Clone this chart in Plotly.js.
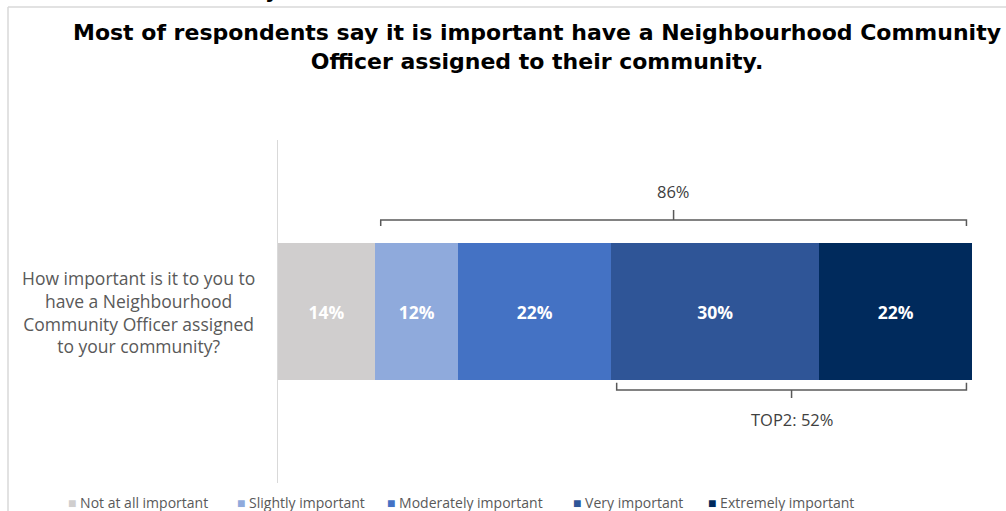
<!DOCTYPE html>
<html>
<head>
<meta charset="utf-8">
<script src="https://cdn.plot.ly/plotly-3.0.1.min.js"></script>
<style>
html,body{margin:0;padding:0;background:#fff;}
#chart{width:1006px;height:511px;}
</style>
</head>
<body>
<div id="chart"></div>
<script>
// ---- data ----
const categories = ['Not at all important', 'Slightly important', 'Moderately important', 'Very important', 'Extremely important'];
const values = [14, 12, 22, 30, 22];
const colors = ['#D0CECE', '#8FAADC', '#4472C4', '#2F5597', '#002A5C'];
const question = 'How important is it to you to<br>have a Neighbourhood<br>Community Officer assigned<br>to your community?';
const titleText = 'Most of respondents say it is important have a Neighbourhood Community<br>Officer assigned to their community.';
const top2Label = 'TOP2';

// ---- geometry helpers (pixels -> paper) ----
const W = 1006, H = 511;
const M = {l: 278, r: 34, t: 140, b: 28};
const PW = W - M.l - M.r, PH = H - M.t - M.b;
const px = x => (x - M.l) / PW;
const py = y => (H - M.b - y) / PH;
const FONT = 'Open Sans, sans-serif';

const traces = categories.map((c, i) => ({
  type: 'bar',
  orientation: 'h',
  name: c,
  y: [0],
  x: [values[i]],
  width: 0.4,
  marker: {color: colors[i], line: {width: 0}},
  texttemplate: '<b>%{x}%</b>',
  textposition: 'inside',
  insidetextanchor: 'middle',
  textangle: 0,
  textfont: {family: FONT, size: 17.5, color: '#ffffff'},
  hoverinfo: 'skip',
  showlegend: false
}));

const total = values.reduce((a, b) => a + b, 0);
const netImportant = total - values[0];
const top2 = values[3] + values[4];
const inset = 0.8;

// bracket above (all "important" answers)
const tb = {x0: values[0] + inset, x1: total - inset, yLine: 0.267, yEnd: 0.249, yTick: 0.296};
tb.xm = (tb.x0 + tb.x1) / 2;
// bracket below (top 2)
const bb = {x0: total - top2 + inset, x1: total - inset, yLine: -0.229, yEnd: -0.208, yTick: -0.252};
bb.xm = (bb.x0 + bb.x1) / 2;

const lineStyle = {color: '#595959', width: 1.5};
const shapes = [
  {type: 'path', xref: 'x', yref: 'y', line: lineStyle,
   path: `M ${tb.x0},${tb.yEnd} L ${tb.x0},${tb.yLine} L ${tb.x1},${tb.yLine} L ${tb.x1},${tb.yEnd} M ${tb.xm},${tb.yLine} L ${tb.xm},${tb.yTick}`},
  {type: 'path', xref: 'x', yref: 'y', line: lineStyle,
   path: `M ${bb.x0},${bb.yEnd} L ${bb.x0},${bb.yLine} L ${bb.x1},${bb.yLine} L ${bb.x1},${bb.yEnd} M ${bb.xm},${bb.yLine} L ${bb.xm},${bb.yTick}`},
  // outer frame lines
  {type: 'line', xref: 'paper', yref: 'paper', x0: px(8), x1: px(1010), y0: py(7), y1: py(7), line: {color: '#d9d9d9', width: 1.5}},
  {type: 'line', xref: 'paper', yref: 'paper', x0: px(8), x1: px(8), y0: py(7), y1: py(515), line: {color: '#d9d9d9', width: 1.5}}
];

const annotations = [
  {xref: 'x', yref: 'y', x: tb.xm, y: 0.351, text: netImportant + '%', showarrow: false,
   xanchor: 'center', yanchor: 'middle',
   font: {family: FONT, size: 16.5, color: '#404040'}},
  {xref: 'x', yref: 'y', x: bb.xm, y: -0.316, text: top2Label + ': ' + top2 + '%', showarrow: false,
   xanchor: 'center', yanchor: 'middle',
   font: {family: FONT, size: 16.5, color: '#404040'}},
  {xref: 'paper', yref: 'y', x: px(138), y: 0, text: question, showarrow: false, align: 'center',
   xanchor: 'center', yanchor: 'middle',
   font: {family: FONT, size: 17.5, color: '#595959'}},
  // cut-off glyph at the top edge
  {xref: 'paper', yref: 'paper', x: px(272), y: py(5), xanchor: 'center', yanchor: 'bottom', text: '<b>y</b>', showarrow: false,
   font: {family: 'DejaVu Sans, sans-serif', size: 21, color: '#000'}}
];

// legend (drawn as annotations)
const legendX = [66, 235, 385, 571, 706];
categories.forEach((c, i) => {
  annotations.push({
    xref: 'paper', yref: 'paper', x: px(legendX[i]), y: py(502), xanchor: 'left', yanchor: 'middle',
    text: `<span style="color:${colors[i]}">■</span> ${c}`, showarrow: false,
    font: {family: FONT, size: 14, color: '#595959'}
  });
});

const layout = {
  width: W, height: H,
  margin: M,
  paper_bgcolor: '#ffffff',
  plot_bgcolor: '#ffffff',
  barmode: 'stack',
  bargap: 0,
  showlegend: false,
  title: {
    text: '<b>' + titleText + '</b>',
    xref: 'container', yref: 'container',
    x: 537 / W, xanchor: 'center',
    y: 1 - 40 / H, yanchor: 'top',
    font: {family: 'DejaVu Sans, sans-serif', size: 22, color: '#000000'}
  },
  xaxis: {range: [0, total], visible: false, fixedrange: true},
  yaxis: {range: [-0.5, 0.5], showticklabels: false, ticks: '', showgrid: false, zeroline: false,
          showline: true, linecolor: '#d9d9d9', linewidth: 1.5, fixedrange: true},
  shapes: shapes,
  annotations: annotations
};

Plotly.newPlot('chart', traces, layout, {displayModeBar: false, staticPlot: true});
</script>
</body>
</html>
